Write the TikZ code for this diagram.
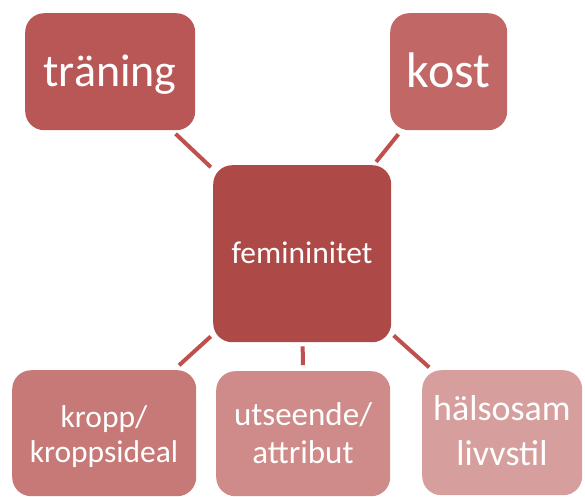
\documentclass[tikz,border=0pt]{standalone}
\usepackage{fontspec}
\setmainfont{Carlito}
\definecolor{cTr}{HTML}{B85755}
\definecolor{cKo}{HTML}{C16866}
\definecolor{cCe}{HTML}{AD4946}
\definecolor{cKr}{HTML}{C67977}
\definecolor{cUt}{HTML}{CE8B89}
\definecolor{cHa}{HTML}{D69F9E}
\definecolor{cLn}{HTML}{C0504D}
\tikzset{
  box/.style={rectangle, rounded corners=19pt, draw=none, anchor=north west, inner sep=0pt},
  txt/.style={text=white, anchor=base, inner sep=0pt},
  conn/.style={draw=cLn, line width=4pt},
}
\begin{document}
\begin{tikzpicture}[x=1pt,y=-1pt]
\useasboundingbox (0,0) rectangle (585,496);
% boxes
\node[box, fill=cTr, minimum width=170pt, minimum height=117pt] (tr) at (25,13) {};
\node[box, fill=cKo, minimum width=117pt, minimum height=117pt] (ko) at (390,13) {};
\node[box, fill=cCe, minimum width=178pt, minimum height=177pt] (ce) at (213,165) {};
\node[box, fill=cKr, minimum width=184pt, minimum height=126pt] (kr) at (12,370) {};
\node[box, fill=cUt, minimum width=174pt, minimum height=125pt] (ut) at (216,371) {};
\node[box, fill=cHa, minimum width=160pt, minimum height=125pt] (ha) at (422,370) {};
% texts
\node[txt, font=\fontsize{46}{50}\selectfont] (ttr) at (110,86) {träning};
\node[txt, font=\fontsize{50}{54}\selectfont] (tko) at (448.5,87) {kost};
\node[txt, font=\fontsize{31.5}{36}\selectfont] (tce) at (302,263) {femininitet};
\node[txt, font=\fontsize{31.5}{36}\selectfont] (tkr1) at (104,427) {kropp/};
\node[txt, font=\fontsize{31.5}{36}\selectfont] (tkr2) at (104,462) {kroppsideal};
\node[txt, font=\fontsize{33}{38}\selectfont] (tut1) at (303,425) {utseende/};
\node[txt, font=\fontsize{33}{38}\selectfont] (tut2) at (303,463) {attribut};
\node[txt, font=\fontsize{36}{42}\selectfont] (tha1) at (502,420) {hälsosam};
\node[txt, font=\fontsize{36}{42}\selectfont] (tha2) at (502,465) {livvstil};
% connectors
\draw[conn, shorten <=5pt, shorten >=3pt] (tr) -- (ce);
\draw[conn, shorten <=5pt, shorten >=4pt] (ko) -- (ce);
\draw[conn, shorten <=3pt, shorten >=7pt] (ce) -- (kr);
\draw[conn, shorten <=4pt, shorten >=6pt] (ce) -- (ut);
\draw[conn, shorten <=3pt, shorten >=4pt] (ce) -- (ha);
\end{tikzpicture}
\end{document}
